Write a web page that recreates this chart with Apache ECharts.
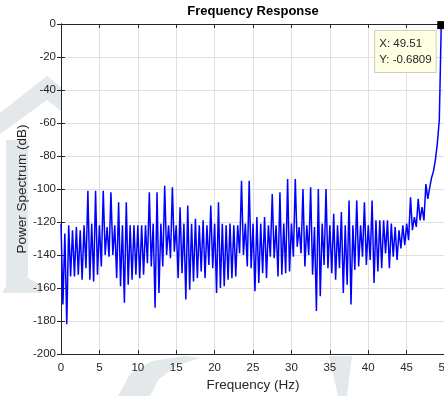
<!DOCTYPE html>
<html>
<head>
<meta charset="utf-8">
<script src="https://cdn.jsdelivr.net/npm/echarts@6/dist/echarts.min.js"></script>
<style>
  html, body { margin: 0; padding: 0; background: #ffffff; }
  #chart { width: 444px; height: 396px; }
</style>
</head>
<body>
<div id="chart"></div>
<script>
// Power spectrum samples (dB), evenly spaced from 0 Hz up to the data-tip bin.
const power = [
  -121, -170, -127, -182, -122, -153, -125, -153, -123, -152,
  -125, -155, -122, -148, -101, -155, -121, -156, -101, -152,
  -122, -147, -101, -140, -123, -141, -102, -140, -122, -154,
  -108, -159, -122, -169, -108, -158, -122, -155, -122, -152,
  -122, -154, -122, -152, -122, -145, -102, -147, -121, -172,
  -102, -163, -121, -147,  -98, -140, -122, -142,  -99, -138,
  -122, -154, -111, -151, -121, -167, -110, -161, -121, -156,
  -118, -154, -122, -150, -119, -154, -122, -146, -110, -148,
  -121, -163, -108, -160, -121, -159, -122, -155, -121, -154,
  -122, -153, -122, -139,  -95, -140, -121, -147,  -95, -148,
  -121, -162, -117, -157, -121, -151, -117, -154, -122, -141,
  -103, -142, -122, -153, -102, -152, -121, -151,  -94, -150,
  -121, -141,  -94, -135, -123, -139, -100, -147, -122, -140,
   -99, -152, -123, -174, -100, -165, -121, -146, -100, -148,
  -122, -151, -115, -155, -122, -148, -114, -163, -122, -158,
  -107, -170, -122, -149, -107, -147, -122, -141, -108, -146,
  -122, -143, -107, -157, -119, -150, -119, -148, -119, -139,
  -119, -148, -121, -141, -123, -143, -125, -136, -122, -134,
  -121, -131, -105, -125, -117, -123, -106, -119, -111, -119,
   -97, -106,  -99,  -93,  -89,  -82,  -72,  -58, -0.6809
];

// Data tip
const tipFreq = 49.51;
const tipPower = -0.6809;

// Axis settings
const freqMin = 0, freqMax = 50, freqStep = 5;
const dbMin = -200, dbMax = 0, dbStep = 20;

const binWidth = tipFreq / (power.length - 1);
const spectrum = power.map((p, i) => [i * binWidth, p]);

const ink = '#262626';
const gridInk = '#dfdfdf';
const font = 'Liberation Sans, Arial, Helvetica, sans-serif';
const shade = '#e3e8ea';

const chart = echarts.init(document.getElementById('chart'), null, { renderer: 'canvas' });

const frameAxis = {
  axisLine: { show: true, lineStyle: { color: ink, width: 1 } },
  axisTick: { show: true, inside: true, length: 4, lineStyle: { color: ink } },
  axisLabel: { show: false },
  splitLine: { show: false }
};

chart.setOption({
  animation: false,
  backgroundColor: '#ffffff',
  title: {
    text: 'Frequency Response',
    left: 253,
    top: 5,
    padding: 0,
    textAlign: 'center',
    textStyle: { fontFamily: font, fontSize: 13, fontWeight: 'bold', color: '#000' }
  },
  graphic: [
    { type: 'polygon', z: -10, silent: true,
      shape: { points: [[0, 113], [47, 76], [61, 87], [61, 111], [47, 100], [0, 134]] },
      style: { fill: shade } },
    { type: 'polygon', z: -10, silent: true,
      shape: { points: [[6, 140], [28, 140], [28, 278], [42, 286], [42, 293], [2, 293], [6, 286]] },
      style: { fill: shade } },
    { type: 'polygon', z: -10, silent: true,
      shape: { points: [[118, 396], [130, 374], [152, 361], [185, 356], [200, 358], [176, 366], [158, 380], [150, 396]] },
      style: { fill: shade } },
    { type: 'polygon', z: -10, silent: true,
      shape: { points: [[329, 356], [352, 356], [347, 396], [338, 396]] },
      style: { fill: shade } }
  ],
  grid: {
    left: 61, top: 24, width: 384, height: 330,
    outerBoundsMode: 'none',
    containLabel: false,
    show: true, backgroundColor: '#ffffff', borderWidth: 0
  },
  xAxis: [
    {
      type: 'value', min: freqMin, max: freqMax, interval: freqStep,
      name: 'Frequency (Hz)', nameLocation: 'middle', nameGap: 24, nameMoveOverlap: false,
      nameTextStyle: { fontFamily: font, fontSize: 13.5, color: ink },
      axisLine: { show: true, onZero: false, lineStyle: { color: ink, width: 1 } },
      axisTick: { show: true, inside: true, length: 4, lineStyle: { color: ink } },
      axisLabel: { fontFamily: font, fontSize: 11.5, color: ink, margin: 8 },
      splitLine: { show: true, lineStyle: { color: gridInk, width: 1 } }
    },
    Object.assign({ type: 'value', position: 'top', min: freqMin, max: freqMax, interval: freqStep }, frameAxis)
  ],
  yAxis: [
    {
      type: 'value', min: dbMin, max: dbMax, interval: dbStep,
      name: 'Power Spectrum (dB)', nameLocation: 'middle', nameGap: 32, nameMoveOverlap: false,
      nameTextStyle: { fontFamily: font, fontSize: 13.5, color: ink },
      axisLine: { show: true, onZero: false, lineStyle: { color: ink, width: 1 } },
      axisTick: { show: true, inside: true, length: 4, lineStyle: { color: ink } },
      axisLabel: { fontFamily: font, fontSize: 11.5, color: ink, margin: 5 },
      splitLine: { show: true, lineStyle: { color: gridInk, width: 1 } }
    },
    Object.assign({ type: 'value', position: 'right', min: dbMin, max: dbMax, interval: dbStep }, frameAxis)
  ],
  series: [{
    type: 'line',
    data: spectrum,
    xAxisIndex: 0,
    yAxisIndex: 0,
    showSymbol: false,
    symbol: 'none',
    lineStyle: { color: '#0000ff', width: 1.5 },
    markPoint: {
      symbol: 'rect',
      symbolSize: 8,
      itemStyle: { color: '#000000' },
      label: {
        show: true,
        position: [-62, 10],
        align: 'left',
        verticalAlign: 'top',
        formatter: 'X: ' + tipFreq + '\nY: ' + tipPower,
        fontFamily: font,
        fontSize: 11.5,
        lineHeight: 16.5,
        color: ink,
        backgroundColor: '#ffffe4',
        borderColor: '#cfcfbf',
        borderWidth: 1,
        padding: [4, 4, 4, 4]
      },
      data: [{ coord: [tipFreq, tipPower] }]
    }
  }]
});
</script>
</body>
</html>
